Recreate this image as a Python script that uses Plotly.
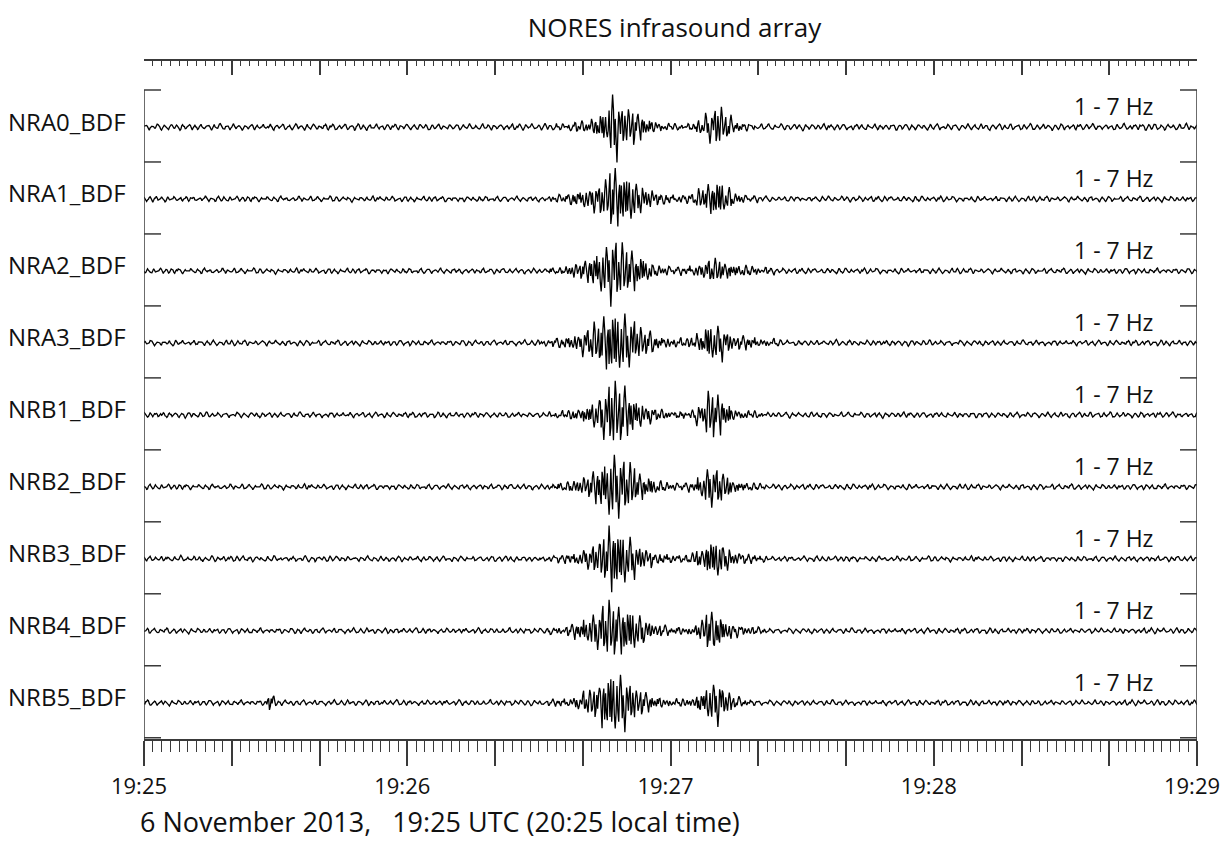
import numpy as np
import plotly.graph_objects as go

# ---------------- data ----------------
TITLE = "NORES infrasound array"
CAPTION = "6 November 2013,   19:25 UTC (20:25 local time)"
BAND_LABEL = "1 - 7 Hz"

CHANNELS = ["NRA0_BDF", "NRA1_BDF", "NRA2_BDF", "NRA3_BDF",
            "NRB1_BDF", "NRB2_BDF", "NRB3_BDF", "NRB4_BDF", "NRB5_BDF"]

# time axis: seconds after 19:25:00 UTC
T_START, T_END, DT = 0.0, 240.0, 0.2
TIME_TICKS = [0, 20, 40, 60, 80, 100, 120, 140, 160, 180, 200, 220, 240]
TIME_LABELS = ["19:25", "", "", "19:26", "", "", "19:27", "", "", "19:28", "", "", "19:29"]

# background noise level per channel (display units)
NOISE_LEVEL = [3.0, 2.5, 2.5, 2.5, 2.5, 2.5, 2.5, 2.5, 2.5]

# signal amplitude envelopes (peak, display units) per 2-second window
WINDOW = 2.0
ENV_NRA0 = [1] * 45 + [1, 1, 2, 3, 4, 5, 10, 16, 34, 22, 20, 14, 8, 5, 3, 2, 2, 3, 8, 14, 22, 12, 5, 3, 2, 1, 1, 1, 1, 1] + [1] * 45
ENV_NRA1 = [1] * 45 + [1, 2, 3, 5, 7, 10, 14, 20, 34, 30, 24, 16, 10, 6, 4, 3, 3, 4, 10, 18, 20, 12, 5, 3, 2, 1, 1, 1, 1, 1] + [1] * 45
ENV_NRA2 = [1] * 45 + [1, 2, 3, 5, 8, 12, 18, 26, 34, 28, 24, 16, 10, 5, 4, 3, 3, 4, 8, 12, 12, 9, 6, 5, 4, 3, 2, 1, 1, 1] + [1] * 45
ENV_NRA3 = [1] * 45 + [2, 3, 4, 6, 9, 14, 20, 30, 37, 32, 26, 18, 12, 7, 5, 4, 4, 5, 10, 20, 18, 12, 7, 6, 5, 4, 3, 2, 1, 1] + [1] * 45
ENV_NRB1 = [1] * 45 + [1, 2, 3, 4, 6, 9, 14, 24, 36, 30, 22, 14, 9, 5, 4, 3, 3, 4, 10, 26, 22, 12, 5, 4, 3, 2, 1, 1, 1, 1] + [1] * 45
ENV_NRB2 = [1] * 45 + [1, 2, 3, 5, 7, 11, 18, 26, 35, 30, 24, 16, 10, 6, 4, 3, 3, 4, 10, 22, 20, 12, 6, 4, 3, 2, 1, 1, 1, 1] + [1] * 45
ENV_NRB3 = [1] * 45 + [1, 2, 3, 4, 6, 10, 16, 26, 38, 30, 22, 14, 9, 5, 4, 3, 3, 4, 10, 20, 20, 12, 6, 4, 3, 2, 1, 1, 1, 1] + [1] * 45
ENV_NRB4 = [1] * 45 + [1, 2, 3, 5, 8, 13, 20, 28, 30, 28, 24, 16, 10, 6, 4, 3, 3, 4, 10, 22, 18, 10, 5, 4, 3, 2, 1, 1, 1, 1] + [1] * 45
ENV_NRB5 = [1] * 14 + [8] + [1] * 30 + [1, 2, 3, 4, 7, 12, 18, 30, 35, 30, 22, 14, 9, 5, 4, 3, 3, 4, 10, 20, 22, 12, 5, 3, 2, 1, 1, 1, 1, 1] + [1] * 45

ENVELOPES = [ENV_NRA0, ENV_NRA1, ENV_NRA2, ENV_NRA3, ENV_NRB1,
             ENV_NRB2, ENV_NRB3, ENV_NRB4, ENV_NRB5]

# normalised waveform shapes: slower background wiggle and faster signal oscillation
NOISE_SHAPE = [0.1, 0.5, 0.8, 0.4, -0.2, -0.7, -0.9, -0.4, 0.2, 0.6, 0.3, -0.1, -0.5, -0.3,
               0.2, 0.7, 1.0, 0.6, -0.1, -0.6, -0.8, -0.5, 0.0, 0.4, 0.5, 0.1, -0.4, -0.9,
               -0.6, 0.1, 0.5, 0.9, 0.5, -0.2, -0.5, -0.2, 0.3, 0.6, 0.2, -0.3, -0.7, -1.0,
               -0.5, 0.2, 0.7, 0.4, -0.1, -0.4, -0.6, -0.2, 0.3, 0.8, 0.9, 0.3, -0.3, -0.8,
               -0.4, 0.1, 0.4, 0.2, -0.2, -0.6, -0.3, 0.2, 0.6, 0.8, 0.2, -0.5, -0.7, -0.3, 0.3]
SIGNAL_SHAPE = [0.3, 0.6, -0.4, -0.8, -0.3, 0.5, -0.2, -0.6, 0.4, 0.9, 0.5, -0.5, 0.3, -0.7,
                -1.0, -0.4, 0.6, 0.3, -0.3, 0.5, 0.8, -0.6, -0.4, 0.4, -0.3, -0.7, 0.3, 1.0,
                0.6, -0.5, -0.3, 0.4, 0.7, -0.8, -0.5, 0.3, -0.4, 0.5, 0.9, 0.4, -0.6, -0.9,
                0.2, 0.5, -0.5, 0.4, -0.3, -0.6, 0.6, 0.3, -0.4, 0.7, -0.5]
NOISE_OFFSET = [0, 17, 33, 8, 51, 24, 45, 61, 12]
SIGNAL_OFFSET = [5, 31, 12, 44, 20, 3, 38, 27, 49]

# ---------------- layout constants ----------------
W, H = 1227, 843
ML, MR, MT, MB = 144, 30, 61, 104
PLOT_H = H - MT - MB          # y axis in display units == pixels
PANEL_TOP0 = 90 - MT          # first separator tick, px below top axis
PANEL_STEP = 71.97
BASE_OFF = 37                 # trace baseline below separator
AX_COLOR = "#3a3a3a"
TXT_COLOR = "#111111"
FONT = "Open Sans"


def yval(px_from_top):
    return PLOT_H - px_from_top


t = np.arange(T_START, T_END + DT / 2, DT)
k = np.arange(len(t))
win = np.minimum((t // WINDOW).astype(int), len(ENV_NRA0) - 1)
noise_shape = np.array(NOISE_SHAPE)
signal_shape = np.array(SIGNAL_SHAPE)

fig = go.Figure()
for i, (name, env) in enumerate(zip(CHANNELS, ENVELOPES)):
    base = yval(PANEL_TOP0 + i * PANEL_STEP + BASE_OFF)
    y = (base
         + NOISE_LEVEL[i] * noise_shape[(k + NOISE_OFFSET[i]) % len(noise_shape)]
         + np.array(env, dtype=float)[win] * signal_shape[(k + SIGNAL_OFFSET[i]) % len(signal_shape)])
    fig.add_trace(go.Scatter(x=t, y=y, mode="lines", name=name,
                             line=dict(color="#000000", width=1.3),
                             showlegend=False, hoverinfo="skip"))
    fig.add_annotation(x=0, xref="paper", xanchor="right", xshift=-16,
                       y=base + 6, yref="y", yanchor="middle",
                       text=name, showarrow=False,
                       font=dict(family=FONT, size=24, color=TXT_COLOR))
    fig.add_annotation(x=T_END, xref="x", xanchor="right", xshift=-42,
                       y=base + 21, yref="y", yanchor="middle",
                       text=BAND_LABEL, showarrow=False,
                       font=dict(family=FONT, size=23, color=TXT_COLOR))

# dummy trace so the top axis is drawn
fig.add_trace(go.Scatter(x=[T_START, T_END], y=[0, 0], xaxis="x2", mode="none",
                         showlegend=False, hoverinfo="skip"))

shapes = []
for xv in (T_START, T_END):
    shapes.append(dict(type="line", xref="x", yref="y", x0=xv, x1=xv,
                       y0=0, y1=yval(PANEL_TOP0),
                       line=dict(color=AX_COLOR, width=1.5)))
for n in range(len(CHANNELS) + 1):
    yy = yval(PANEL_TOP0 + n * PANEL_STEP)
    shapes.append(dict(type="line", xref="x", yref="y", xsizemode="pixel",
                       xanchor=T_START, x0=0, x1=17, y0=yy, y1=yy,
                       line=dict(color=AX_COLOR, width=1.5)))
    shapes.append(dict(type="line", xref="x", yref="y", xsizemode="pixel",
                       xanchor=T_END, x0=-17, x1=0, y0=yy, y1=yy,
                       line=dict(color=AX_COLOR, width=1.5)))

fig.update_layout(
    width=W, height=H, autosize=False,
    margin=dict(l=ML, r=MR, t=MT, b=MB, autoexpand=False),
    paper_bgcolor="white", plot_bgcolor="white",
    shapes=shapes,
    title=dict(text=TITLE, x=674.5 / W, xanchor="center", y=1 - 28 / H, yanchor="middle",
               font=dict(family=FONT, size=26, color=TXT_COLOR)),
    xaxis=dict(range=[T_START, T_END], showgrid=False, zeroline=False, automargin=False,
               showline=True, linecolor=AX_COLOR, linewidth=1.5,
               tickmode="array", tickvals=TIME_TICKS, ticktext=TIME_LABELS,
               ticks="outside", ticklen=25, tickwidth=1.5, tickcolor=AX_COLOR,
               ticklabelstandoff=2, ticklabelshift=-5,
               minor=dict(tickmode="linear", tick0=0, dtick=2, ticks="outside",
                          ticklen=11, tickwidth=1.2, tickcolor=AX_COLOR, showgrid=False),
               tickfont=dict(family=FONT, size=22, color=TXT_COLOR)),
    xaxis2=dict(range=[T_START, T_END], overlaying="x", side="top", anchor="y",
                showgrid=False, zeroline=False, showticklabels=False, automargin=False,
                showline=True, linecolor=AX_COLOR, linewidth=1.5,
                tickmode="array", tickvals=TIME_TICKS,
                ticks="inside", ticklen=14, tickwidth=1.5, tickcolor=AX_COLOR,
                minor=dict(tickmode="linear", tick0=0, dtick=2, ticks="inside",
                           ticklen=5, tickwidth=1.2, tickcolor=AX_COLOR, showgrid=False)),
    yaxis=dict(range=[0, PLOT_H], visible=False, showgrid=False, zeroline=False,
               fixedrange=True, automargin=False),
)

fig.add_annotation(x=(138 - ML) / (W - ML - MR), xref="paper",
                   y=-(821 - (H - MB)) / PLOT_H, yref="paper",
                   text=CAPTION, showarrow=False, xanchor="left", yanchor="middle",
                   font=dict(family=FONT, size=27, color=TXT_COLOR))

fig.write_html("out.html",
               config={"displayModeBar": False},
               post_script="document.body.style.margin='0px';"
                           "document.body.style.overflow='hidden';")
